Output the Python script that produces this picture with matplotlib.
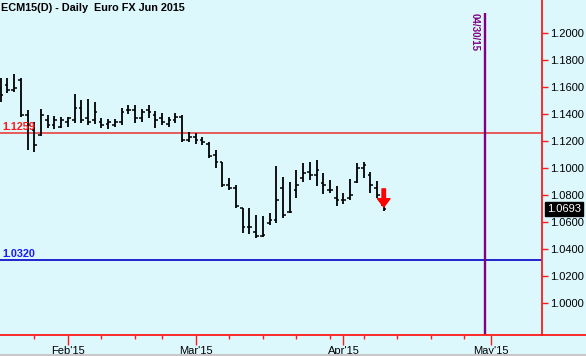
import matplotlib
matplotlib.use("Agg")
import matplotlib.pyplot as plt
from matplotlib.lines import Line2D

plt.rcParams['font.family'] = ['Liberation Sans', 'DejaVu Sans']

# ---- data (daily OHLC, trading-day index 0 = Jan 16 2015) ----
opens = [1.1593, 1.1615, 1.1578, 1.1652, 1.1393, 1.1281, 1.1244, 1.1356, 1.1319, 1.1304,
         1.1341, 1.1356, 1.1444, 1.1370, 1.1356, 1.1341, 1.1326, 1.1319, 1.1341, 1.1430,
         1.1430, 1.1370, 1.1430, 1.1393, 1.1370, 1.1326, 1.1356, 1.1378, 1.1207, 1.1230,
         1.1207, 1.1178, 1.1096, 1.1044, 1.0874, 1.0852, 1.0704, 1.0563, 1.0526, 1.0496,
         1.0593, 1.0615, 1.0852, 1.0674, 1.0837, 1.0926, 1.0970, 1.0948, 1.0889, 1.0837,
         1.0778, 1.0763, 1.0778, 1.0896, 1.1000, 1.0948, 1.0852, 1.0726]
highs = [1.1667, 1.1667, 1.1696, 1.1667, 1.1430, 1.1341, 1.1437, 1.1393, 1.1385, 1.1378,
         1.1378, 1.1548, 1.1504, 1.1511, 1.1489, 1.1370, 1.1363, 1.1363, 1.1444, 1.1467,
         1.1467, 1.1437, 1.1467, 1.1422, 1.1407, 1.1378, 1.1407, 1.1393, 1.1267, 1.1259,
         1.1230, 1.1193, 1.1133, 1.1044, 1.0926, 1.0874, 1.0704, 1.0704, 1.0652, 1.0644,
         1.0667, 1.1015, 1.0933, 1.0896, 1.0985, 1.1037, 1.1044, 1.1059, 1.0963, 1.0911,
         1.0867, 1.0815, 1.0919, 1.1037, 1.1044, 1.0970, 1.0904, 1.0741]
lows = [1.1489, 1.1556, 1.1563, 1.1378, 1.1133, 1.1119, 1.1237, 1.1296, 1.1289, 1.1296,
        1.1304, 1.1333, 1.1333, 1.1319, 1.1326, 1.1296, 1.1289, 1.1304, 1.1319, 1.1400,
        1.1333, 1.1341, 1.1370, 1.1296, 1.1319, 1.1304, 1.1333, 1.1193, 1.1193, 1.1178,
        1.1170, 1.1074, 1.1000, 1.0859, 1.0837, 1.0704, 1.0519, 1.0511, 1.0481, 1.0489,
        1.0578, 1.0593, 1.0630, 1.0667, 1.0778, 1.0896, 1.0911, 1.0867, 1.0807, 1.0815,
        1.0719, 1.0733, 1.0763, 1.0889, 1.0926, 1.0815, 1.0778, 1.0681]
closes = [1.1541, 1.1578, 1.1593, 1.1393, 1.1319, 1.1170, 1.1393, 1.1319, 1.1356, 1.1356,
          1.1370, 1.1444, 1.1356, 1.1341, 1.1415, 1.1319, 1.1341, 1.1341, 1.1415, 1.1430,
          1.1370, 1.1415, 1.1415, 1.1356, 1.1341, 1.1356, 1.1378, 1.1207, 1.1230, 1.1207,
          1.1193, 1.1089, 1.1044, 1.0874, 1.0852, 1.0719, 1.0563, 1.0563, 1.0496, 1.0504,
          1.0615, 1.0763, 1.0652, 1.0674, 1.0874, 1.0963, 1.0948, 1.0985, 1.0874, 1.0837,
          1.0763, 1.0763, 1.0800, 1.1000, 1.1022, 1.0874, 1.0800, 1.0693]

month_ticks = [10, 29, 51, 73]
month_labels = ["Feb'15", "Mar'15", "Apr'15", "May'15"]
week_ticks = [5, 15, 20, 24, 34, 39, 44, 49, 54, 59, 64, 69]
price_ticks = [1.0000, 1.0200, 1.0400, 1.0600, 1.0800, 1.1000, 1.1200, 1.1400, 1.1600, 1.1800, 1.2000]

red_level = 1.1259
blue_level = 1.0320
marker_day = 72          # 04/30/15
marker_label = "04/30/15"
last_price = 1.0693
title = "ECM15(D) - Daily  Euro FX Jun 2015"

# ---- figure ----
W, H = 586, 356
bg = '#dcf8fd'
fig = plt.figure(figsize=(W / 100, H / 100), dpi=100, facecolor=bg)
ax = fig.add_axes([0, 21 / H, 542 / W, 335 / H], facecolor=bg)
ax.set_xlim(-0.104, 80.55)
ax.set_ylim(0.9763, 1.2244)

for s in ['top', 'left']:
    ax.spines[s].set_visible(False)
ax.spines['right'].set_color('#ff1a1a')
ax.spines['right'].set_linewidth(1.3)
ax.spines['bottom'].set_color('#ff1a1a')
ax.spines['bottom'].set_linewidth(1.3)

# OHLC bars
n = len(closes)
xs = list(range(n))
ax.vlines(xs, lows, highs, color='black', lw=1.3)
ax.hlines(opens, [x - 0.4 for x in xs], xs, color='black', lw=1.1)
ax.hlines(closes, xs, [x + 0.4 for x in xs], color='black', lw=1.1)

# level lines
ax.axhline(red_level, color='#e85a5a', lw=1.4, zorder=1)
ax.axhline(blue_level, color='#0000c8', lw=1.2, zorder=1)
ax.text(0.2, red_level + 0.0008, f"{red_level:.4f}", color='#ff1a1a', fontsize=7.8,
        fontweight='bold', va='bottom', ha='left')
ax.text(0.2, blue_level + 0.0008, f"{blue_level:.4f}", color='#1a1aff', fontsize=7.8,
        fontweight='bold', va='bottom', ha='left')

# date marker
ax.vlines(marker_day, 0.9763, 1.2148, color='#800080', lw=1.7)
ax.text(marker_day - 1.5, 1.2148, marker_label, color='#800080', fontsize=7, fontweight='bold',
        rotation=-90, ha='center', va='top', rotation_mode='default')

# red arrow above last bar
ax.annotate('', xy=(n - 1, 1.0711), xytext=(n - 1, 1.0845),
            arrowprops=dict(facecolor='#ff0000', edgecolor='#ff0000', width=2.5,
                            headwidth=9, headlength=6, shrink=0))

# axes ticks
ax.yaxis.tick_right()
ax.set_yticks(price_ticks)
ax.set_yticklabels([f"{p:.4f}" for p in price_ticks])
ax.tick_params(axis='y', colors='#ff1a1a', length=4, width=1, labelcolor='black',
               labelsize=8, pad=1.5)
ax.set_xticks(month_ticks)
ax.set_xticklabels(month_labels)
ax.set_xticks(week_ticks, minor=True)
ax.tick_params(axis='x', which='major', colors='#ff1a1a', length=7, width=1,
               labelcolor='black', labelsize=8, pad=1)
ax.tick_params(axis='x', which='minor', colors='#ff1a1a', length=3, width=1)

# extend bottom axis line to figure edge
fig.add_artist(Line2D([542 / W, 1], [21 / H, 21 / H], transform=fig.transFigure,
                      color='#ff1a1a', lw=1.3))
fig.add_artist(Line2D([0, 1], [1.5 / H, 1.5 / H], transform=fig.transFigure,
                      color='#c8c8c8', lw=1.5))

# title
fig.text(1 / W, 1 - 3 / H, title, fontsize=7.8, fontweight='bold', color='black',
         ha='left', va='top')

# last price tag
y_tag = 21 / H + (last_price - 0.9763) / (1.2244 - 0.9763) * 335 / H
fig.text(547 / W, y_tag, f"{last_price:.4f}", color='white', fontsize=8, ha='left',
         va='center', bbox=dict(boxstyle='square,pad=0.18', facecolor='black', edgecolor='black'))

fig.savefig('out.png', dpi=100, facecolor=bg)
